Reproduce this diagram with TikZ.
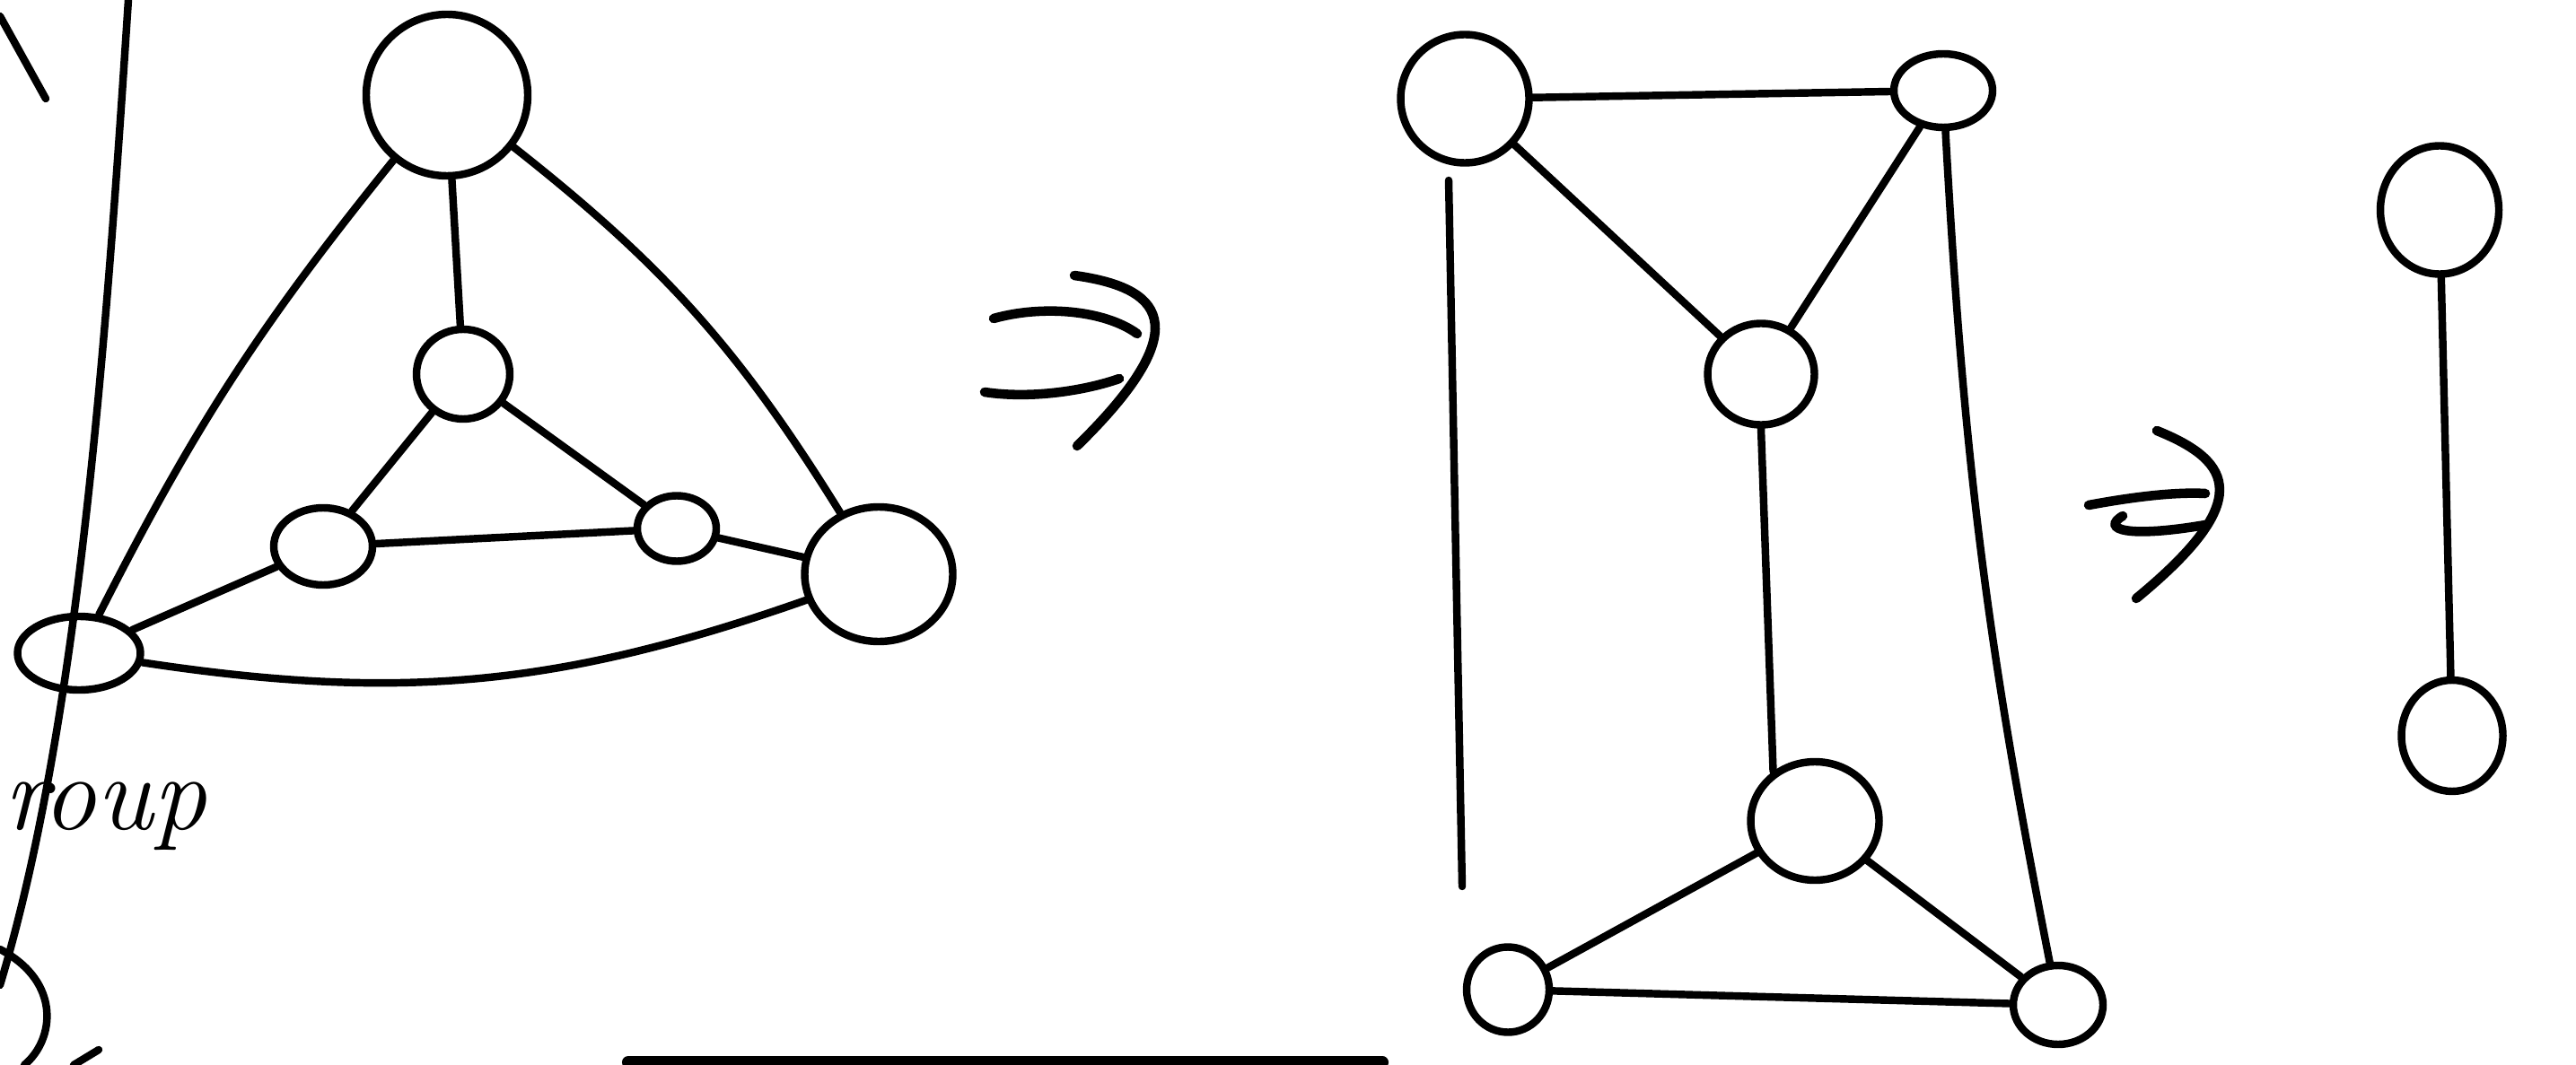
\documentclass[tikz,border=0pt]{standalone}
\usetikzlibrary{shapes.geometric}
\begin{document}
\begin{tikzpicture}[line width=2.4pt,line cap=round,
                    nodo/.style={draw,ellipse,inner sep=0pt},
                    freccia/.style={line width=3pt}]
  \useasboundingbox (0,0) rectangle (28.7,-11.87);
  \begin{scope}
    \node[nodo,minimum width=1.80cm,minimum height=1.80cm] (t)  at (4.98,-1.06) {};
    \node[nodo,minimum width=1.04cm,minimum height=1.00cm] (m)  at (5.16,-4.17) {};
    \node[nodo,minimum width=1.10cm,minimum height=0.86cm] (il) at (3.60,-6.09) {};
    \node[nodo,minimum width=0.88cm,minimum height=0.73cm] (ir) at (7.54,-5.89) {};
    \node[nodo,minimum width=1.65cm,minimum height=1.50cm] (or) at (9.79,-6.40) {};
    \node[nodo,minimum width=1.37cm,minimum height=0.82cm] (ol) at (0.88,-7.28) {};
    \draw (t) -- (m);
    \draw (t) to[bend right=6] (ol);
    \draw (t) to[bend left=10] (or);
    \draw (m) -- (il);
    \draw (m) -- (ir);
    \draw (il) -- (ir);
    \draw (il) -- (ol);
    \draw (ir) -- (or);
    \draw (ol) to[bend right=14] (or);
    \draw (1.43,0) .. controls (1.20,-3.5) and (0.90,-8.0) .. (0,-10.98);
    \draw (0,-0.18) -- (0.51,-1.10);
    \draw (0,-10.58) .. controls (0.70,-10.95) and (0.60,-11.6) .. (0.27,-11.87);
    \draw (0.82,-11.87) -- (1.10,-11.70);
    \node[anchor=base west,inner sep=0pt,font=\fontsize{34}{34}\selectfont\itshape] (grp) at (0,-9.24) {roup};
  \end{scope}
  \begin{scope}
    \draw[freccia] (11.07,-3.55) .. controls (11.6,-3.40) and (12.3,-3.45) .. (12.67,-3.72);
    \draw[freccia] (10.97,-4.37) .. controls (11.5,-4.45) and (12.1,-4.35) .. (12.47,-4.22);
    \draw[freccia] (11.97,-3.07) .. controls (12.9,-3.20) and (13.4,-3.60) .. (12.00,-4.97);
  \end{scope}
  \begin{scope}
    \node[nodo,minimum width=1.43cm,minimum height=1.43cm] (tl) at (16.32,-1.10) {};
    \node[nodo,minimum width=1.10cm,minimum height=0.82cm] (tr) at (21.65,-1.01) {};
    \node[nodo,minimum width=1.19cm,minimum height=1.13cm] (c)  at (19.62,-4.17) {};
    \node[nodo,minimum width=1.43cm,minimum height=1.32cm] (b)  at (20.22,-9.15) {};
    \node[nodo,minimum width=0.92cm,minimum height=0.95cm] (bl) at (16.80,-11.03) {};
    \node[nodo,minimum width=1.00cm,minimum height=0.88cm] (br) at (22.93,-11.20) {};
    \coordinate (sx1) at (16.14,-2.01);
    \coordinate (sx2) at (16.29,-9.88);
    \draw (tl) -- (tr);
    \draw (tl) -- (c);
    \draw (tr) -- (c);
    \draw (c.south) -- (b.130);
    \draw (b) -- (bl);
    \draw (b) -- (br);
    \draw (bl) -- (br);
    \draw (sx1) -- (sx2);
    \draw (tr) to[bend right=4] (br);
  \end{scope}
  \begin{scope}
    \draw[freccia] (23.27,-5.63) .. controls (23.7,-5.55) and (24.2,-5.48) .. (24.57,-5.50);
    \draw[freccia] (23.65,-5.75) .. controls (23.40,-5.90) and (23.7,-6.00) .. (24.57,-5.85);
    \draw[freccia] (24.03,-4.80) .. controls (24.9,-5.15) and (25.1,-5.60) .. (23.80,-6.67);
  \end{scope}
  \begin{scope}
    \node[nodo,minimum width=1.32cm,minimum height=1.43cm] (rt) at (27.18,-2.34) {};
    \node[nodo,minimum width=1.13cm,minimum height=1.24cm] (rb) at (27.32,-8.20) {};
    \draw (rt) -- (rb);
  \end{scope}
  \draw[line width=4pt] (7.0,-11.84) -- (15.4,-11.84);
\end{tikzpicture}
\end{document}
